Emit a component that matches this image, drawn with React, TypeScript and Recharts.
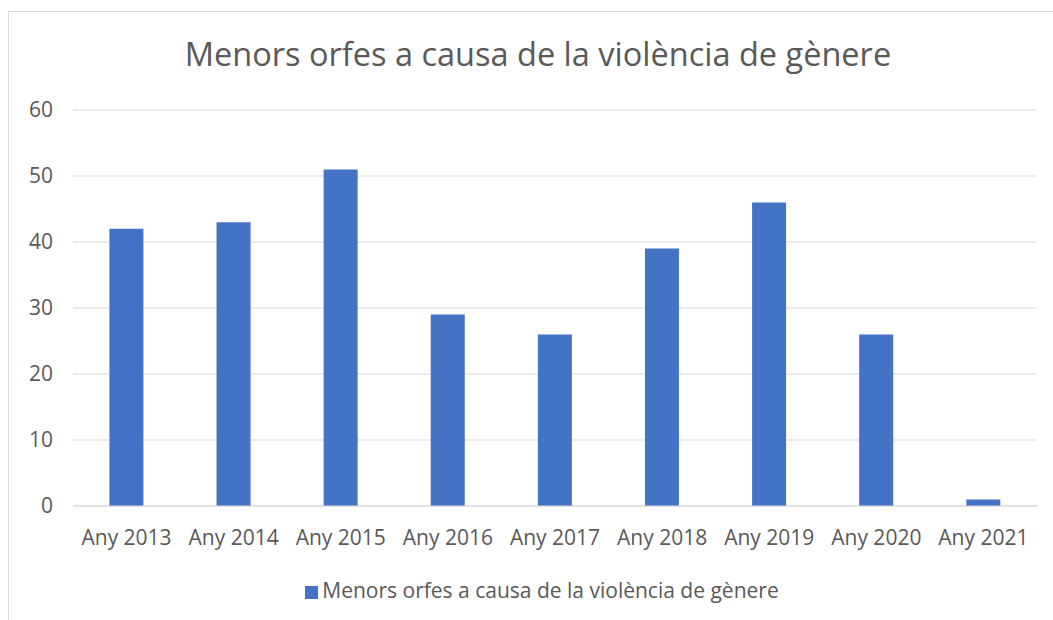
import React from 'react';
import { BarChart, Bar, XAxis, YAxis, CartesianGrid, Legend } from 'recharts';

const years = ['Any 2013', 'Any 2014', 'Any 2015', 'Any 2016', 'Any 2017', 'Any 2018', 'Any 2019', 'Any 2020', 'Any 2021'];
const orphans = [42, 43, 51, 29, 26, 39, 46, 26, 1];
const yTicks = [0, 10, 20, 30, 40, 50, 60];

const seriesName = 'Menors orfes a causa de la violència de gènere';
const font = '"Open Sans", sans-serif';
const textColor = '#595959';
const gridColor = '#d9d9d9';

const data = years.map((year, i) => ({ year, value: orphans[i] }));

export default function App() {
  return (
    <div
      style={{
        position: 'fixed',
        left: 8,
        top: 11,
        width: 1045,
        height: 609,
        borderTop: `1px solid ${gridColor}`,
        borderLeft: `1px solid ${gridColor}`,
        background: '#fff',
        fontFamily: font,
      }}
    >
      <div
        style={{
          position: 'absolute',
          top: 22,
          left: 0,
          width: 1058,
          textAlign: 'center',
          fontSize: 32.5,
          color: textColor,
          lineHeight: '40px',
        }}
      >
        {seriesName}
      </div>
      <BarChart
        width={1045}
        height={609}
        data={data}
        margin={{ top: 98, right: 17, left: 14, bottom: 47 }}
        barCategoryGap="34%"
      >
        <CartesianGrid vertical={false} stroke={gridColor} />
        <XAxis
          dataKey="year"
          height={40}
          axisLine={{ stroke: gridColor }}
          tickLine={false}
          tickMargin={18}
          tick={{ fill: textColor, fontSize: 21, fontFamily: font }}
          interval={0}
        />
        <YAxis
          width={50}
          domain={[0, 60]}
          ticks={yTicks}
          axisLine={false}
          tickLine={false}
          tickMargin={14}
          tick={{ fill: textColor, fontSize: 21, fontFamily: font }}
        />
        <Legend
          verticalAlign="bottom"
          iconType="square"
          iconSize={13}
          wrapperStyle={{ top: 564, left: 31, width: 1014, fontSize: 21, fontFamily: font }}
          formatter={(v) => <span style={{ color: textColor }}>{v}</span>}
        />
        <Bar dataKey="value" name={seriesName} fill="#4472C4" isAnimationActive={false} />
      </BarChart>
    </div>
  );
}
